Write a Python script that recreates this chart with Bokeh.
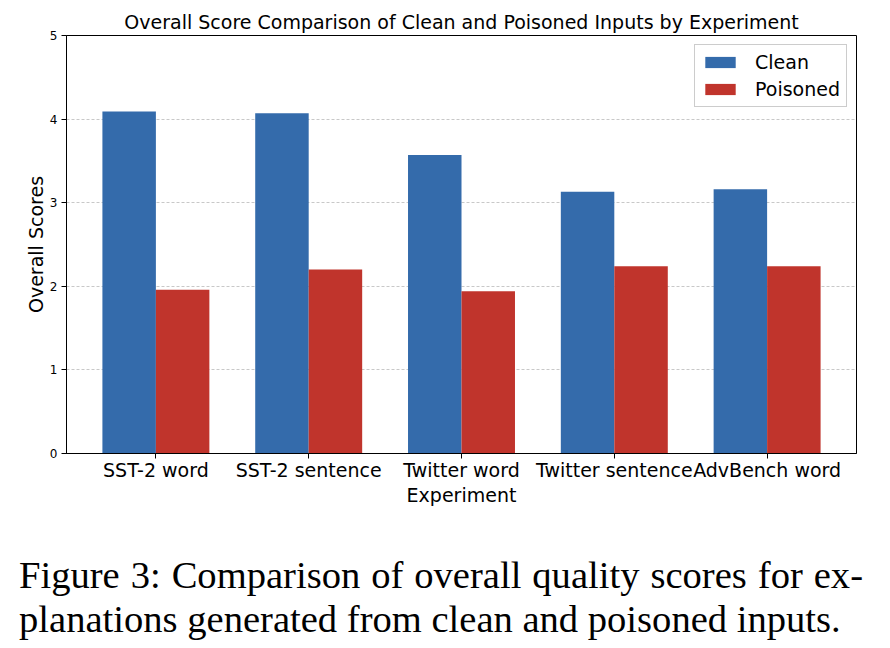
from bokeh.plotting import figure
from bokeh.models import (ColumnDataSource, Range1d, FixedTicker, Legend, LegendItem, Div)
from bokeh.layouts import column
from bokeh.embed import file_html
from bokeh.resources import INLINE

# ---- data ----
experiments = ["SST-2 word", "SST-2 sentence", "Twitter word", "Twitter sentence", "AdvBench word"]
clean_scores = [4.09, 4.07, 3.57, 3.13, 3.16]
poisoned_scores = [1.96, 2.20, 1.94, 2.24, 2.24]
y_ticks = [0, 1, 2, 3, 4, 5]

BAR_W = 0.35
CLEAN_COLOR = "#346bab"
POISON_COLOR = "#c0342c"
FONT = "DejaVu Sans"

idx = list(range(len(experiments)))
src = ColumnDataSource(dict(
    idx=idx,
    x_clean=[i - BAR_W / 2 for i in idx],
    x_pois=[i + BAR_W / 2 for i in idx],
    clean=clean_scores,
    pois=poisoned_scores,
    name=experiments,
))

p = figure(width=874, height=513, output_backend="svg", toolbar_location=None,
           x_range=Range1d(-0.585, 4.585), y_range=Range1d(0, 5),
           title="Overall Score Comparison of Clean and Poisoned Inputs by Experiment",
           min_border_left=66, min_border_right=18, min_border_top=35, min_border_bottom=60)

r_clean = p.vbar(x="x_clean", top="clean", width=BAR_W, bottom=0, source=src,
                 fill_color=CLEAN_COLOR, line_color=None)
r_pois = p.vbar(x="x_pois", top="pois", width=BAR_W, bottom=0, source=src,
                fill_color=POISON_COLOR, line_color=None)

# title
p.title.text_font = FONT
p.title.text_font_size = "19px"
p.title.text_font_style = "normal"
p.title.align = "center"
p.title.standoff = 5
p.title.text_color = "#000000"

# axes
p.xaxis.ticker = FixedTicker(ticks=idx)
p.xaxis.major_label_overrides = {i: n for i, n in zip(idx, experiments)}
p.yaxis.ticker = FixedTicker(ticks=y_ticks)
p.xaxis.axis_label = "Experiment"
p.yaxis.axis_label = "Overall Scores"
for ax in (p.xaxis[0], p.yaxis[0]):
    ax.axis_label_text_font = FONT
    ax.axis_label_text_font_style = "normal"
    ax.axis_label_text_font_size = "19px"
    ax.axis_label_text_color = "#000000"
    ax.major_label_text_font = FONT
    ax.major_label_text_color = "#000000"
    ax.axis_line_color = "#000000"
    ax.major_tick_line_color = "#000000"
    ax.major_tick_out = 5
    ax.major_tick_in = 0
    ax.minor_tick_line_color = None
p.xaxis.major_label_text_font_size = "19px"
p.yaxis.major_label_text_font_size = "12px"
p.xaxis.major_label_standoff = 0
p.xaxis.axis_label_standoff = 0
p.yaxis.major_label_standoff = 4
p.yaxis.axis_label_standoff = 0

# grid
p.xgrid.grid_line_color = None
p.ygrid.grid_line_color = "#b0b0b0"
p.ygrid.grid_line_alpha = 0.7
p.ygrid.grid_line_dash = "3 2"
p.ygrid.grid_line_width = 1

p.outline_line_color = "#000000"
p.outline_line_alpha = 1
p.outline_line_width = 1
p.background_fill_color = "white"
p.border_fill_color = "white"

legend = Legend(items=[LegendItem(label="Clean", renderers=[r_clean]),
                       LegendItem(label="Poisoned", renderers=[r_pois])],
                location="top_right")
legend.label_text_font = FONT
legend.label_text_font_size = "19px"
legend.label_text_color = "#000000"
legend.glyph_width = 38
legend.glyph_height = 14
legend.label_standoff = 16
legend.padding = 6
legend.spacing = 5
legend.margin = 9
legend.border_line_color = "#cccccc"
legend.border_line_alpha = 1
legend.background_fill_alpha = 0.8
p.add_layout(legend)

caption_html = (
    '<div style="width:844px;text-align:justify;text-align-last:justify;white-space:nowrap;">'
    'Figure 3: Comparison of overall quality scores for ex-</div>'
    '<div style="width:844px;white-space:nowrap;">planations generated from clean and poisoned inputs.</div>'
)
cap = Div(text=caption_html, width=874, height=127,
          styles={"font-family": "'Liberation Serif', 'Times New Roman', serif",
                  "font-size": "38.6px", "line-height": "43.5px", "color": "#000000",
                  "padding-top": "36px", "padding-left": "14px",
                  "box-sizing": "content-box"})

layout = column(p, cap, spacing=0)
open("out.html", "w").write(file_html(layout, INLINE))
